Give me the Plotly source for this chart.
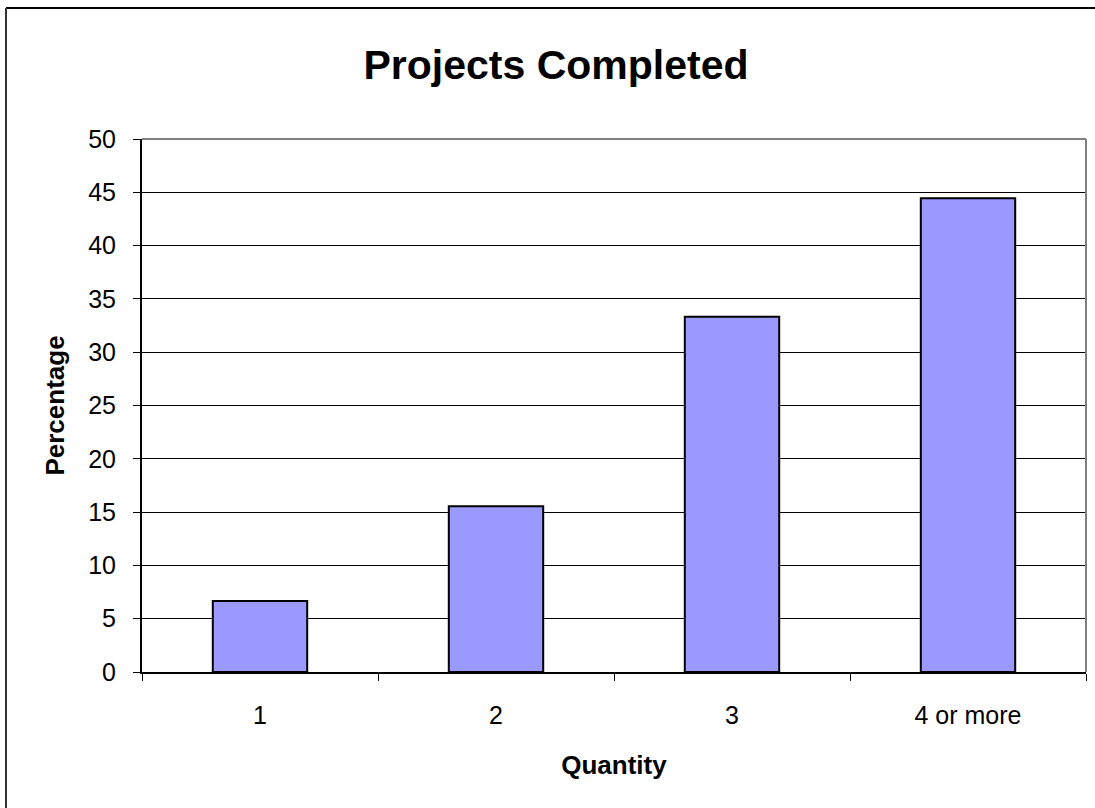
import plotly.graph_objects as go

# Share of respondents by number of projects completed
categories = ["1", "2", "3", "4 or more"]
percentages = [6.67, 15.56, 33.33, 44.44]
y_ticks = [0, 5, 10, 15, 20, 25, 30, 35, 40, 45, 50]

W, H = 1095, 808
L, R, T, B = 142, 9, 139, 136
pw, ph = W - L - R, H - T - B

fig = go.Figure(
    go.Bar(
        x=categories,
        y=percentages,
        marker=dict(color="#9999FF", line=dict(color="#000000", width=2)),
        width=0.4,
        hoverinfo="x+y",
    )
)

fig.update_layout(
    width=W,
    height=H,
    margin=dict(l=L, r=R, t=T, b=B),
    paper_bgcolor="white",
    plot_bgcolor="white",
    showlegend=False,
    font=dict(family="Liberation Sans, Arial, sans-serif", color="#000000"),
    title=dict(
        text="<b>Projects Completed</b>",
        font=dict(size=41),
        xref="container",
        x=556 / W,
        xanchor="center",
        y=1 - 65 / H,
        yanchor="middle",
    ),
    bargap=0.6,
)

fig.update_xaxes(
    type="category",
    tickson="boundaries",
    ticks="outside",
    ticklen=7,
    tickcolor="#000000",
    tickwidth=1,
    showline=True,
    linecolor="#000000",
    linewidth=2,
    showgrid=False,
    tickfont=dict(size=25),
    ticklabelstandoff=20,
    title=dict(text="<b>Quantity</b>", font=dict(size=26), standoff=28),
)

fig.update_yaxes(
    range=[0, 50],
    tickvals=y_ticks,
    ticks="outside",
    ticklen=7,
    tickcolor="#000000",
    showline=True,
    linecolor="#000000",
    linewidth=2,
    showgrid=True,
    gridcolor="#000000",
    gridwidth=1,
    zeroline=False,
    tickfont=dict(size=25),
    ticklabelstandoff=12,
    title=dict(text="<b>Percentage</b>", font=dict(size=26), standoff=16),
)

# Grey plot-area frame on the top and right sides
fig.add_shape(type="line", xref="paper", yref="paper", x0=0, x1=1, y0=1, y1=1,
              line=dict(color="#808080", width=2), layer="above")
fig.add_shape(type="line", xref="paper", yref="paper", x0=1, x1=1, y0=0, y1=1,
              line=dict(color="#808080", width=2), layer="above")

# Outer chart frame (top and left edges)
fx0 = (6 - L) / pw
fy1 = 1 + (T - 8) / ph
fig.add_shape(type="line", xref="paper", yref="paper",
              x0=fx0, x1=(W + 20 - L) / pw, y0=fy1, y1=fy1,
              line=dict(color="#000000", width=2), layer="below")
fig.add_shape(type="line", xref="paper", yref="paper",
              x0=fx0, x1=fx0, y0=-(B + 20) / ph, y1=fy1,
              line=dict(color="#333333", width=2), layer="below")

fig.write_html("out.html")
